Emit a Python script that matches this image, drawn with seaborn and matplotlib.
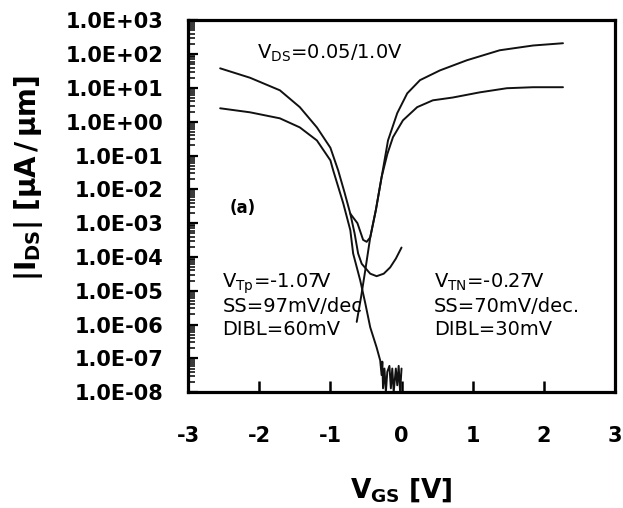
import numpy as np
import pandas as pd
import matplotlib
matplotlib.use("Agg")
import matplotlib.pyplot as plt
import matplotlib.ticker as mticker
import seaborn as sns

# values: V_GS [V] and |I_DS| [uA/um]
nmos_hi_v = [2.27, 1.85, 1.38, 0.92, 0.54, 0.26, 0.08, -0.06, -0.19, -0.28, -0.36, -0.44, -0.51, -0.57, -0.63]
nmos_hi_i = [2.1e2, 1.8e2, 1.3e2, 6.6e1, 3.3e1, 1.7e1, 6.9e0, 1.8e0, 2.8e-1, 2.3e-2, 2.5e-3, 3.8e-4, 4.0e-5, 6.3e-6, 1.2e-6]

nmos_lo_v = [2.27, 1.85, 1.48, 1.1, 0.72, 0.44, 0.22, 0.02, -0.12, -0.2, -0.28, -0.36, -0.44, -0.49, -0.54, -0.62, -0.72]
nmos_lo_i = [10.5, 10.5, 9.8, 7.4, 5.2, 4.3, 2.7, 1.1, 0.35, 0.11, 0.023, 2.5e-3, 3.8e-4, 2.8e-4, 3.2e-4, 1.0e-3, 1.9e-3]

pmos_hi_v = [-2.55, -2.13, -1.71, -1.43, -1.19, -1.0, -0.89, -0.8, -0.72, -0.66, -0.61, -0.56, -0.44, -0.35, -0.25, -0.16, -0.08, 0.0]
pmos_hi_i = [38, 20, 8.5, 2.7, 0.68, 0.17, 0.036, 7.9e-3, 1.9e-3, 5.0e-4, 1.26e-4, 6.3e-5, 3.2e-5, 2.7e-5, 3.2e-5, 4.9e-5, 8.9e-5, 1.9e-4]

pmos_lo_v = [-2.55, -2.13, -1.71, -1.43, -1.19, -1.0, -0.96, -0.82, -0.72, -0.68, -0.58, -0.51, -0.44, -0.35, -0.30,
             -0.28, -0.27, -0.26, -0.24, -0.22, -0.20, -0.17, -0.15, -0.13, -0.11, -0.08, -0.06, -0.04, -0.02, 0.0]
pmos_lo_i = [2.5, 1.9, 1.26, 0.68, 0.28, 0.072, 0.036, 3.9e-3, 6.2e-4, 1.26e-4, 2.0e-5, 4.3e-6, 8.3e-7, 2.1e-7, 8.7e-8,
             3.2e-8, 8e-8, 1.3e-8, 5e-8, 1.0e-8, 4e-8, 6e-8, 1.3e-8, 5e-8, 1.0e-8, 5e-8, 1.6e-8, 6e-8, 1.0e-8, 5e-8]

y_ticks = [1e3, 1e2, 1e1, 1e0, 1e-1, 1e-2, 1e-3, 1e-4, 1e-5, 1e-6, 1e-7, 1e-8]
y_labels = ["1.0E+03", "1.0E+02", "1.0E+01", "1.0E+00", "1.0E-01", "1.0E-02",
            "1.0E-03", "1.0E-04", "1.0E-05", "1.0E-06", "1.0E-07", "1.0E-08"]
x_ticks = [-3, -2, -1, 0, 1, 2, 3]

sns.set_style("white")
plt.rcParams["font.family"] = ["DejaVu Sans"]
plt.rcParams["mathtext.fontset"] = "dejavusans"
plt.rcParams["mathtext.default"] = "regular"
plt.rcParams["text.color"] = "black"
plt.rcParams["axes.labelcolor"] = "black"
plt.rcParams["xtick.color"] = "black"
plt.rcParams["ytick.color"] = "black"

fig = plt.figure(figsize=(6.23, 5.08), dpi=100)
ax = fig.add_axes([0.302, 0.228, 0.685, 0.732])

for v, i in [(nmos_hi_v, nmos_hi_i), (nmos_lo_v, nmos_lo_i), (pmos_hi_v, pmos_hi_i), (pmos_lo_v, pmos_lo_i)]:
    df = pd.DataFrame({"vgs": v, "ids": i})
    sns.lineplot(data=df, x="vgs", y="ids", sort=False, estimator=None,
                 color="#111111", lw=1.4, ax=ax)

ax.set_yscale("log")
ax.set_ylim(1e-8, 1e3)
ax.set_xlim(-3, 3)
ax.set_yticks(y_ticks)
ax.set_yticklabels(y_labels)
ax.yaxis.set_minor_locator(mticker.LogLocator(base=10, subs=np.arange(2, 10), numticks=200))
ax.yaxis.set_minor_formatter(mticker.NullFormatter())
ax.set_xticks(x_ticks)
ax.set_xticklabels([str(t) for t in x_ticks])

for s in ax.spines.values():
    s.set_visible(True)
    s.set_color("black")
    s.set_linewidth(2.3)

ax.tick_params(axis="y", which="major", direction="in", length=7, width=1.6, pad=18,
               labelsize=15, left=True, right=False)
ax.tick_params(axis="y", which="minor", direction="in", length=5, width=1.1, left=True, right=False)
ax.tick_params(axis="x", which="major", direction="in", length=8, width=1.8, pad=24,
               labelsize=15, bottom=True, top=False)
for lab in ax.get_yticklabels() + ax.get_xticklabels():
    lab.set_fontweight("bold")

ax.set_xlabel(r"$\mathbf{V_{GS}\ [V]}$", fontsize=19, labelpad=22)
ax.set_ylabel(r"$\mathbf{|I_{DS}|\ [\mu A\,/\,\mu m]}$", fontsize=20)
ax.yaxis.set_label_coords(-0.335, 0.575)

ax.text(0.162, 0.898, r"V$_{DS}$=0.05/1.0V", transform=ax.transAxes, fontsize=14, va="baseline")
ax.text(0.098, 0.482, "(a)", transform=ax.transAxes, fontsize=12, fontweight="bold", va="baseline")
ax.text(0.08, 0.282, r"V$_{Tp}$=-1.07V", transform=ax.transAxes, fontsize=14, va="baseline")
ax.text(0.08, 0.215, "SS=97mV/dec", transform=ax.transAxes, fontsize=14, va="baseline")
ax.text(0.08, 0.153, "DIBL=60mV", transform=ax.transAxes, fontsize=14, va="baseline")
ax.text(0.576, 0.282, r"V$_{TN}$=-0.27V", transform=ax.transAxes, fontsize=14, va="baseline")
ax.text(0.576, 0.215, "SS=70mV/dec.", transform=ax.transAxes, fontsize=14, va="baseline")
ax.text(0.576, 0.153, "DIBL=30mV", transform=ax.transAxes, fontsize=14, va="baseline")

fig.savefig("out.png", dpi=100)
